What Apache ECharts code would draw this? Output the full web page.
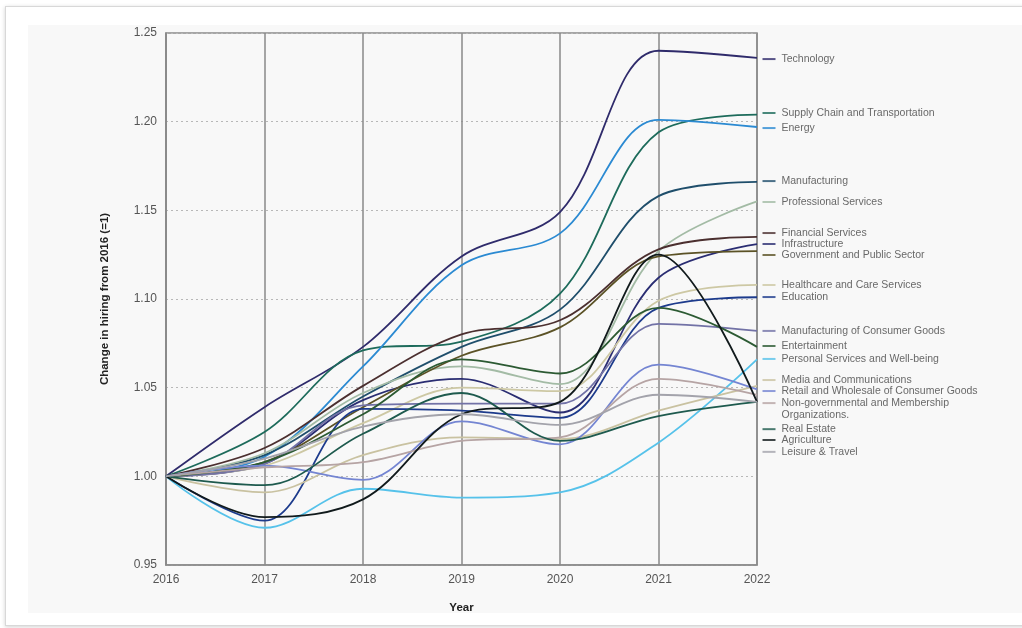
<!DOCTYPE html>
<html>
<head>
<meta charset="utf-8">
<script src="https://cdn.jsdelivr.net/npm/echarts@6/dist/echarts.min.js"></script>
<style>
  html, body { margin: 0; padding: 0; background: #ffffff; }
  #frame { position: absolute; left: 5px; top: 6px; width: 1030px; height: 618px;
           border: 1px solid #d8d8d8; box-shadow: 0 1px 4px rgba(0,0,0,0.18); background: #ffffff; }
  #panel { position: absolute; left: 28px; top: 25px; width: 994px; height: 588px; background: #f8f8f8; }
  #chart { position: absolute; left: 0; top: 0; width: 1022px; height: 628px; }
</style>
</head>
<body>
<div id="frame"></div>
<div id="panel"></div>
<div id="chart"></div>
<script>
const years = [2016, 2017, 2018, 2019, 2020, 2021, 2022];
const yTicks = [0.95, 1.00, 1.05, 1.10, 1.15, 1.20, 1.25];

const names = [
  'Technology', 'Supply Chain and Transportation', 'Energy', 'Manufacturing',
  'Professional Services', 'Financial Services', 'Infrastructure',
  'Government and Public Sector', 'Healthcare and Care Services', 'Education',
  'Manufacturing of Consumer Goods', 'Entertainment', 'Personal Services and Well-being',
  'Media and Communications', 'Retail and Wholesale of Consumer Goods',
  'Non-governmental and Membership\nOrganizations.', 'Real Estate', 'Agriculture', 'Leisure & Travel'
];

const technology      = [1.000, 1.039, 1.073, 1.124, 1.149, 1.240, 1.236];
const supplyChain     = [1.000, 1.025, 1.071, 1.076, 1.103, 1.194, 1.204];
const energy          = [1.000, 1.011, 1.062, 1.119, 1.137, 1.201, 1.197];
const manufacturing   = [1.000, 1.012, 1.045, 1.073, 1.094, 1.158, 1.166];
const professional    = [1.000, 1.013, 1.047, 1.062, 1.052, 1.127, 1.155];
const financial       = [1.000, 1.016, 1.051, 1.080, 1.088, 1.128, 1.135];
const infrastructure  = [1.000, 1.007, 1.043, 1.055, 1.036, 1.112, 1.131];
const government      = [1.000, 1.008, 1.039, 1.068, 1.084, 1.124, 1.127];
const healthcare      = [1.000, 1.006, 1.030, 1.050, 1.048, 1.099, 1.108];
const education       = [1.000, 0.975, 1.038, 1.037, 1.033, 1.095, 1.101];
const consumerMfg     = [1.000, 1.007, 1.040, 1.041, 1.041, 1.086, 1.082];
const entertainment   = [1.000, 1.008, 1.035, 1.066, 1.058, 1.095, 1.073];
const personal        = [1.000, 0.971, 0.993, 0.988, 0.991, 1.019, 1.066];
const media           = [1.000, 0.991, 1.012, 1.022, 1.021, 1.037, 1.051];
const retail          = [1.000, 1.006, 0.998, 1.031, 1.018, 1.063, 1.049];
const nonGov          = [1.000, 1.005, 1.008, 1.020, 1.022, 1.055, 1.046];
const realEstate      = [1.000, 0.995, 1.024, 1.047, 1.020, 1.034, 1.042];
const agriculture     = [1.000, 0.977, 0.987, 1.035, 1.042, 1.125, 1.042];
const leisure         = [1.000, 1.010, 1.028, 1.035, 1.029, 1.046, 1.042];

// vertical position (in data units) of each right-hand label
const labelY = [1.2353, 1.2049, 1.1964, 1.1665, 1.1547, 1.1372, 1.1310, 1.1248, 1.1079, 1.1011,
                1.0820, 1.0735, 1.0662, 1.0543, 1.0481, 1.0413, 1.0266, 1.0205, 1.0138];

const values = [technology, supplyChain, energy, manufacturing, professional, financial,
  infrastructure, government, healthcare, education, consumerMfg, entertainment, personal,
  media, retail, nonGov, realEstate, agriculture, leisure];

const colors = ['#2f2b6b', '#1d6b5b', '#2b8ad2', '#1f4e6b', '#a3bba5', '#4b2f2f', '#2a2d72',
  '#5b5226', '#cdc8a4', '#1d3b8c', '#7272a6', '#2c5a33', '#56c2ea', '#c9c2a1', '#7485d2',
  '#b6a4a4', '#1e5a4e', '#111a1c', '#a3a3ab'];

const FONT = "'Liberation Sans', Arial, sans-serif";

const lineSeries = values.map((v, i) => ({
  name: names[i],
  type: 'line',
  data: v.map((y, k) => [years[k], y]),
  smooth: 0.35,
  showSymbol: false,
  lineStyle: { color: colors[i], width: 1.8 },
  itemStyle: { color: colors[i] },
  z: 3
}));

const labelSeries = {
  type: 'scatter',
  clip: false,
  silent: true,
  symbol: 'rect',
  symbolSize: [13, 2],
  symbolOffset: [12, 0],
  z: 5,
  data: names.map((n, i) => ({
    value: [2022, labelY[i]],
    itemStyle: { color: colors[i] },
    label: {
      show: true,
      position: 'right',
      distance: 6,
      formatter: n,
      color: '#444',
      fontSize: 10.5,
      fontFamily: FONT,
      lineHeight: 12,
      verticalAlign: n.indexOf('\n') >= 0 ? 'top' : 'middle',
      offset: n.indexOf('\n') >= 0 ? [0, -6] : [0, 0]
    }
  }))
};

const chart = echarts.init(document.getElementById('chart'), null, { renderer: 'canvas' });
chart.setOption({
  animation: false,
  backgroundColor: 'transparent',
  grid: { left: 166, right: 265, top: 33, bottom: 63, show: true, borderColor: '#8a8a8a', borderWidth: 1.5, backgroundColor: 'transparent' },
  xAxis: {
    type: 'value', min: 2016, max: 2022, interval: 1,
    name: 'Year', nameLocation: 'middle', nameGap: 37,
    nameTextStyle: { fontWeight: 'bold', fontSize: 11.5, color: '#222', fontFamily: FONT },
    axisLine: { show: true, lineStyle: { color: '#8a8a8a', width: 1.5 } },
    axisTick: { show: false },
    axisLabel: { color: '#555', fontSize: 12, margin: 9, fontFamily: FONT, formatter: v => String(v) },
    splitLine: { show: true, lineStyle: { color: '#8a8a8a', width: 1.5 } }
  },
  yAxis: {
    type: 'value', min: yTicks[0], max: yTicks[yTicks.length - 1], interval: 0.05,
    name: 'Change in hiring from 2016 (=1)', nameLocation: 'middle', nameGap: 55,
    nameTextStyle: { fontWeight: 'bold', fontSize: 11.5, color: '#222', fontFamily: FONT },
    axisLine: { show: true, lineStyle: { color: '#8a8a8a', width: 1.5 } },
    axisTick: { show: false },
    axisLabel: { color: '#555', fontSize: 12, margin: 9, fontFamily: FONT, formatter: v => v.toFixed(2) },
    splitLine: { show: true, lineStyle: { color: '#b8b8b8', width: 1, type: [2, 3] } }
  },
  series: lineSeries.concat([labelSeries])
});
</script>
</body>
</html>
